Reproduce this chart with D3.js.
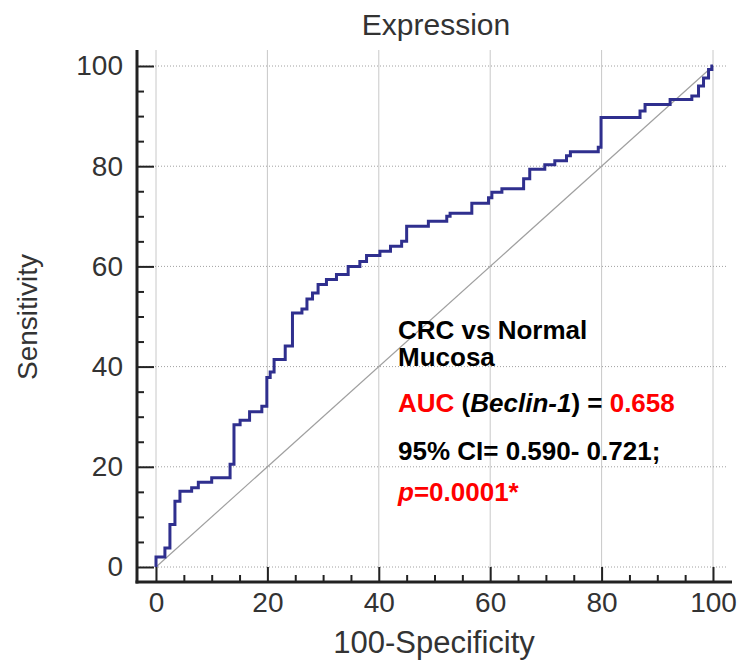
<!DOCTYPE html>
<html>
<head>
<meta charset="utf-8">
<script src="https://cdn.jsdelivr.net/npm/d3@7"></script>
<style>
  html, body { margin: 0; padding: 0; background: #fff; }
  svg { display: block; }
</style>
</head>
<body>
<svg id="chart" width="752" height="661"></svg>
<script>
// ROC operating points (100-Specificity, Sensitivity), drawn as steps (vertical first)
const specX = [0, 1.6, 2.5, 3.4, 4.3, 6.4, 7.6, 10.0, 13.3, 14.0, 15.1, 16.8, 19.0, 19.9, 20.5, 21.2, 23.2, 24.5, 26.2, 27.1, 28.1, 29.1, 30.6, 32.4, 34.5, 36.6, 37.8, 40.2, 42.1, 44.1, 45.0, 48.9, 52.2, 52.8, 56.7, 59.7, 60.3, 62.1, 66.0, 67.1, 69.8, 71.6, 73.7, 74.4, 79.4, 79.9, 86.9, 87.8, 92.3, 96.2, 97.4, 98.3, 99.2, 99.8, 100];
const sensY = [0, 2.0, 3.8, 8.5, 13.1, 15.1, 15.8, 16.9, 17.8, 20.5, 28.4, 29.3, 31.0, 32.1, 37.8, 38.9, 41.4, 44.1, 50.7, 51.5, 53.5, 54.7, 56.4, 57.4, 58.4, 60.0, 61.0, 62.2, 63.0, 64.0, 65.0, 68.0, 69.0, 70.0, 70.6, 72.6, 73.7, 74.8, 75.5, 77.5, 79.4, 80.3, 81.1, 82.1, 82.9, 83.8, 89.7, 91.0, 92.3, 93.3, 94.0, 96.0, 97.6, 99.3, 100];
const majorTicks = [0, 20, 40, 60, 80, 100];
const minorTicks = d3.range(0, 101, 5);
const titleText = "Expression";
const xTitle = "100-Specificity";
const yTitle = "Sensitivity";

const svg = d3.select("#chart");
const font = "'Liberation Sans', Arial, Helvetica, sans-serif";

const x = d3.scaleLinear().domain([0, 100]).range([156, 713]);
const y = d3.scaleLinear().domain([0, 100]).range([567, 66]);

const axisX = 137, axisY = 582, topY = 50, rightX = 732;

// vertical grid lines
svg.append("g").selectAll("line").data(majorTicks).join("line")
  .attr("x1", d => x(d)).attr("x2", d => x(d))
  .attr("y1", topY).attr("y2", axisY)
  .attr("stroke", "#c8c8c8").attr("stroke-width", 1);

// horizontal dotted grid lines
svg.append("g").selectAll("line").data(majorTicks).join("line")
  .attr("x1", axisX).attr("x2", 728)
  .attr("y1", d => y(d)).attr("y2", d => y(d))
  .attr("stroke", "#a0a0a0").attr("stroke-width", 1)
  .attr("stroke-dasharray", "1,2");

// diagonal reference
svg.append("line")
  .attr("x1", x(0)).attr("y1", y(0)).attr("x2", x(100)).attr("y2", y(100))
  .attr("stroke", "#a0a0a0").attr("stroke-width", 1.2);

// Axes (ticks point inward)
const gy = svg.append("g").attr("transform", `translate(${axisX},0)`);
gy.call(d3.axisLeft(y).tickValues(minorTicks.filter(d => !majorTicks.includes(d))).tickSize(-7).tickFormat(""))
  .call(g => g.select(".domain").remove())
  .call(g => g.selectAll("line").attr("stroke", "#222").attr("stroke-width", 2));
const gy2 = svg.append("g").attr("transform", `translate(${axisX},0)`);
gy2.call(d3.axisLeft(y).tickValues(majorTicks).tickSize(-17).tickPadding(14))
  .call(g => g.select(".domain").remove())
  .call(g => g.selectAll("line").attr("stroke", "#222").attr("stroke-width", 2))
  .call(g => g.selectAll("text").attr("font-family", font).attr("font-size", 28).attr("fill", "#333"));

const gx = svg.append("g").attr("transform", `translate(0,${axisY})`);
gx.call(d3.axisBottom(x).tickValues(minorTicks.filter(d => !majorTicks.includes(d))).tickSize(-7).tickFormat(""))
  .call(g => g.select(".domain").remove())
  .call(g => g.selectAll("line").attr("stroke", "#222").attr("stroke-width", 2));
const gx2 = svg.append("g").attr("transform", `translate(0,${axisY})`);
gx2.call(d3.axisBottom(x).tickValues(majorTicks).tickSize(-15).tickPadding(10))
  .call(g => g.select(".domain").remove())
  .call(g => g.selectAll("line").attr("stroke", "#222").attr("stroke-width", 2))
  .call(g => g.selectAll("text").attr("font-family", font).attr("font-size", 28).attr("fill", "#333"));

// axis lines
svg.append("line").attr("x1", axisX).attr("x2", axisX).attr("y1", topY).attr("y2", axisY + 1.5)
  .attr("stroke", "#222").attr("stroke-width", 3);
svg.append("line").attr("x1", axisX - 1.5).attr("x2", rightX).attr("y1", axisY).attr("y2", axisY)
  .attr("stroke", "#222").attr("stroke-width", 3);

// ROC step curve
const pts = specX.map((d, i) => [d, sensY[i]]);
svg.append("path")
  .datum(pts)
  .attr("d", d3.line().x(d => x(d[0])).y(d => y(d[1])).curve(d3.curveStepBefore))
  .attr("fill", "none").attr("stroke", "#2f2f8e").attr("stroke-width", 3)
  .attr("stroke-linejoin", "miter");

// titles
svg.append("text").attr("x", 436).attr("y", 35).attr("text-anchor", "middle")
  .attr("font-family", font).attr("font-size", 30).attr("fill", "#333").text(titleText);
svg.append("text").attr("x", 434).attr("y", 653).attr("text-anchor", "middle")
  .attr("font-family", font).attr("font-size", 31).attr("fill", "#333").text(xTitle);
svg.append("text").attr("transform", "translate(37,317) rotate(-90)").attr("text-anchor", "middle")
  .attr("font-family", font).attr("font-size", 28).attr("fill", "#333").text(yTitle);

// annotation
const ann = svg.append("g").attr("font-family", font).attr("font-size", 26).attr("font-weight", "bold");
ann.append("text").attr("x", 398).attr("y", 339).attr("fill", "#000").text("CRC vs Normal");
ann.append("text").attr("x", 398).attr("y", 366).attr("fill", "#000").text("Mucosa");
const t3 = ann.append("text").attr("x", 398).attr("y", 412).attr("fill", "#000");
t3.append("tspan").attr("fill", "#f00").text("AUC");
t3.append("tspan").text(" (");
t3.append("tspan").attr("font-style", "italic").text("Beclin-1");
t3.append("tspan").text(") = ");
t3.append("tspan").attr("fill", "#f00").text("0.658");
ann.append("text").attr("x", 398).attr("y", 460).attr("fill", "#000").text("95% CI= 0.590- 0.721;");
const t5 = ann.append("text").attr("x", 398).attr("y", 501).attr("fill", "#f00");
t5.append("tspan").attr("font-style", "italic").text("p");
t5.append("tspan").text("=0.0001*");
</script>
</body>
</html>
